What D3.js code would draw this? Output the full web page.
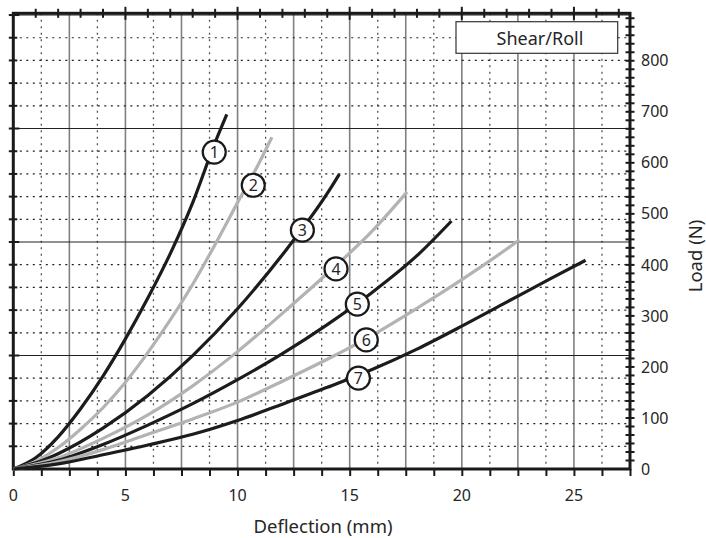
<!DOCTYPE html>
<html>
<head>
<meta charset="utf-8">
<script src="https://cdn.jsdelivr.net/npm/d3@7"></script>
<style>
  html, body { margin: 0; padding: 0; background: #fff; }
  svg { display: block; font-family: "Noto Sans", "Open Sans", sans-serif; }
</style>
</head>
<body>
<svg id="chart" width="706" height="538"></svg>
<script>
// ---------- data ----------
const seriesNames = ["1", "2", "3", "4", "5", "6", "7"];
const seriesTone  = ["dark", "light", "dark", "light", "dark", "light", "dark"];

const deflection1 = [0, 1,  2,  3,   4,   5,   6,   7,   8,   9,   9.52];
const load1       = [0, 22, 63, 118, 182, 255, 335, 422, 522, 640, 695];

const deflection2 = [0, 1,  2,  3,  4,   5,   6,   7,   8,   9,   10,  11,  11.53];
const load2       = [0, 15, 42, 78, 120, 170, 228, 292, 362, 440, 522, 603, 650];

const deflection3 = [0, 1,  2,  4,  6,   8,   10,  12,  14,  14.54];
const load3       = [0, 12, 30, 80, 144, 222, 314, 420, 540, 578];

const deflection4 = [0, 2,  4,  6,   8,   10,  12,  14,  16,  17.56];
const load4       = [0, 22, 60, 106, 163, 230, 305, 383, 466, 543];

const deflection5 = [0, 2,  4,  6,  8,   10,  12,  14,  16,  18,  19.54];
const load5       = [0, 17, 48, 86, 128, 175, 226, 283, 346, 418, 486];

const deflection6 = [0, 2,  4,  6,  8,  10,  12,  14,  16,  18,  20,  22,  22.57];
const load6       = [0, 14, 38, 68, 98, 131, 172, 215, 262, 315, 371, 431, 449];

const deflection7 = [0, 2,  4,  6,  8,  10, 12,  14,  16,  18,  20,  22,  24,  25.52];
const load7       = [0, 10, 28, 47, 68, 95, 127, 160, 195, 235, 280, 327, 374, 409];

// circled label anchors (deflection mm, load N)
const labelDeflection = [8.96, 10.70, 12.89, 14.39, 15.34, 15.74, 15.39];
const labelLoad       = [621,  556,   468,   392,   323,   253,   178];

const xTickLabels = [0, 5, 10, 15, 20, 25];
const yTickLabels = [0, 100, 200, 300, 400, 500, 600, 700, 800];
const legendText = "Shear/Roll";
const xTitle = "Deflection (mm)";
const yTitle = "Load (N)";

// axis extents (mm, N) and grid steps
const xDomain = [0, 27.5];
const yDomain = [0, 893];
const gridStepN = 44.48;   // 10 lbf
const gridStepMm = 1.25;

// ---------- build ----------
const xs = [deflection1, deflection2, deflection3, deflection4, deflection5, deflection6, deflection7];
const ys = [load1, load2, load3, load4, load5, load6, load7];
const series = seriesNames.map((n, i) => ({
  name: n, tone: seriesTone[i],
  pts: xs[i].map((d, j) => [d, ys[i][j]]),
  label: [labelDeflection[i], labelLoad[i]]
}));

const svg = d3.select("#chart");
const x = d3.scaleLinear().domain(xDomain).range([13.3, 630]);
const y = d3.scaleLinear().domain(yDomain).range([469, 13.3]);

const L = x.range()[0], R = x.range()[1], B = y.range()[0], T = y.range()[1];
const textColor = "#262626";

// grid: vertical
const vGrid = d3.range(1, Math.round(xDomain[1] / gridStepMm)).map(k => k * gridStepMm);
svg.append("g").selectAll("line").data(vGrid).join("line")
  .attr("x1", d => x(d)).attr("x2", d => x(d))
  .attr("y1", T).attr("y2", B)
  .attr("stroke", (d, i) => (i % 2 === 1) ? "#808080" : "#555")
  .attr("stroke-width", (d, i) => (i % 2 === 1) ? 1.6 : 1.3)
  .attr("stroke-dasharray", (d, i) => (i % 2 === 1) ? null : "2,4.5");

// grid: horizontal
const hGrid = d3.range(1, Math.floor(yDomain[1] / gridStepN) + 1).map(k => k * gridStepN).filter(v => v < yDomain[1] - 2);
svg.append("g").selectAll("line").data(hGrid).join("line")
  .attr("x1", L).attr("x2", R)
  .attr("y1", d => y(d)).attr("y2", d => y(d))
  .attr("stroke", "#222")
  .attr("stroke-width", (d, i) => ((i + 1) % 5 === 0) ? 1.1 : 1.2)
  .attr("stroke-dasharray", (d, i) => ((i + 1) % 5 === 0) ? null : "2,4.5");

// left axis ticks (at grid lines)
svg.append("g").selectAll("line").data(hGrid).join("line")
  .attr("x1", L - 4.5).attr("x2", (d, i) => ((i + 1) % 5 === 0) ? L + 6 : L + 4)
  .attr("y1", d => y(d)).attr("y2", d => y(d))
  .attr("stroke", "#1a1a1a").attr("stroke-width", 2);

// top axis ticks: every 1 mm
const topTicks = d3.range(1, Math.floor(xDomain[1]) + 1);
svg.append("g").selectAll("line").data(topTicks).join("line")
  .attr("x1", d => x(d)).attr("x2", d => x(d))
  .attr("y1", d => d % 5 === 0 ? T - 6.5 : T - 4.5)
  .attr("y2", d => d % 5 === 0 ? T + 6.5 : T + 4.5)
  .attr("stroke", "#1a1a1a").attr("stroke-width", 2);

// right axis ticks: every 100/6 N
const rightTicks = d3.range(1, Math.floor(yDomain[1] / (100 / 6)) + 1).map(k => k * 100 / 6);
svg.append("g").selectAll("line").data(rightTicks).join("line")
  .attr("x1", R - 4.5).attr("x2", R + 4.5)
  .attr("y1", d => y(d)).attr("y2", d => y(d))
  .attr("stroke", "#1a1a1a").attr("stroke-width", 2);

// frame
svg.append("rect").attr("x", L).attr("y", T).attr("width", R - L).attr("height", B - T)
  .attr("fill", "none").attr("stroke", "#1a1a1a").attr("stroke-width", 3);

// bottom axis (d3 axis)
const bottomAxis = d3.axisBottom(x)
  .tickValues(d3.range(0, xDomain[1] + 0.001, gridStepMm))
  .tickSize(7).tickFormat("");
const gb = svg.append("g").attr("transform", `translate(0,${B})`).call(bottomAxis);
gb.select(".domain").remove();
gb.selectAll(".tick line").attr("stroke", "#1a1a1a").attr("stroke-width", 2);

svg.append("g").selectAll("text").data(xTickLabels).join("text")
  .attr("x", d => x(d)).attr("y", B + 32)
  .attr("text-anchor", "middle").attr("font-size", 16).attr("fill", textColor)
  .text(d => d);

// right axis labels (d3 axis for placement)
const rightAxis = d3.axisRight(y).tickValues(yTickLabels).tickSize(0).tickPadding(11);
const gr = svg.append("g").attr("transform", `translate(${R},0)`).call(rightAxis);
gr.select(".domain").remove();
gr.selectAll("text").attr("font-size", 16).attr("fill", textColor)
  .attr("font-family", '"Noto Sans", sans-serif');

// curves
const line = d3.line().x(d => x(d[0])).y(d => y(d[1])).curve(d3.curveMonotoneX);
svg.append("g").selectAll("path").data(series).join("path")
  .attr("d", d => line(d.pts))
  .attr("fill", "none")
  .attr("stroke", d => d.tone === "dark" ? "#1c1c1c" : "#b3b3b3")
  .attr("stroke-width", 3.2)
  .attr("stroke-linecap", "butt");

// circled labels
const lab = svg.append("g").selectAll("g").data(series).join("g")
  .attr("transform", d => `translate(${x(d.label[0])},${y(d.label[1])})`);
lab.append("circle").attr("r", 11.5).attr("fill", "#fff").attr("stroke", "#1a1a1a").attr("stroke-width", 2.2);
lab.append("text").attr("text-anchor", "middle").attr("dy", "0.36em")
  .attr("font-size", 16).attr("fill", textColor).text(d => d.name);

// legend box
const lg = svg.append("g");
lg.append("rect").attr("x", 456).attr("y", 21.7).attr("width", 161.7).attr("height", 31.6)
  .attr("fill", "#fff").attr("stroke", "#333").attr("stroke-width", 1.2);
lg.append("text").attr("x", 540).attr("y", 44.5).attr("text-anchor", "middle")
  .attr("font-size", 18).attr("fill", textColor).text(legendText);

// axis titles
svg.append("text").attr("x", 323).attr("y", 533)
  .attr("text-anchor", "middle").attr("font-size", 18.5).attr("fill", textColor).text(xTitle);
svg.append("text").attr("transform", `translate(701.5,${256}) rotate(-90)`)
  .attr("text-anchor", "middle").attr("font-size", 18.5).attr("fill", textColor).text(yTitle);
</script>
</body>
</html>
